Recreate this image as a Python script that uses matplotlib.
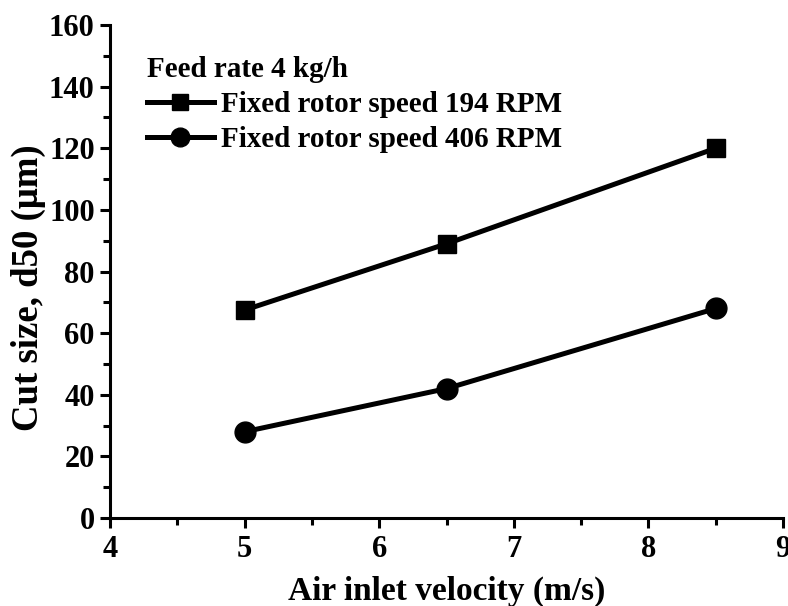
import matplotlib
matplotlib.use("Agg")
import matplotlib.pyplot as plt
from matplotlib.ticker import MultipleLocator

# data
velocity = [5.0, 6.5, 8.5]
d50_194 = [67.5, 89.0, 120.0]
d50_406 = [28.0, 42.0, 68.0]

plt.rcParams["font.family"] = ["Liberation Serif", "DejaVu Serif"]
plt.rcParams["font.weight"] = "bold"

fig = plt.figure(figsize=(7.88, 6.06), dpi=100)
ax = fig.add_axes([0.1396, 0.1452, 0.8541, 0.8135])

ax.plot(velocity, d50_194, color="black", lw=3.6, marker="s", ms=13,
        label="Fixed rotor speed 194 RPM")
ax.plot(velocity, d50_406, color="black", lw=3.6, marker="o", ms=15,
        label="Fixed rotor speed 406 RPM")

ax.set_xlim(4, 9)
ax.set_ylim(0, 160)
ax.xaxis.set_major_locator(MultipleLocator(1))
ax.xaxis.set_minor_locator(MultipleLocator(0.5))
ax.yaxis.set_major_locator(MultipleLocator(20))
ax.yaxis.set_minor_locator(MultipleLocator(10))

for s in ("top", "right"):
    ax.spines[s].set_visible(False)
for s in ("left", "bottom"):
    ax.spines[s].set_linewidth(2.2)

ax.tick_params(which="major", direction="out", length=7, width=2.2,
               labelsize=22, pad=4)
ax.tick_params(axis="x", which="major", pad=5.5)
ax.tick_params(which="minor", direction="out", length=5, width=2.2)
for lbl in ax.get_xticklabels() + ax.get_yticklabels():
    lbl.set_fontweight("bold")

ax.set_xlabel("Air inlet velocity (m/s)", fontsize=24, fontweight="bold", labelpad=8)
ax.set_ylabel("Cut size, d50 (\u03bcm)", fontsize=26.5, fontweight="bold")
ax.yaxis.set_label_coords(-0.095, 0.467)

leg = ax.legend(title="Feed rate 4 kg/h", loc="upper left",
                bbox_to_anchor=(0.024, 0.979), frameon=False,
                prop={"size": 21, "weight": "bold"}, handlelength=2.3,
                handletextpad=0.25, labelspacing=0.27, borderpad=0.2,
                markerscale=0.9)
leg.get_title().set_fontsize(21)
leg.get_title().set_fontweight("bold")
leg._legend_box.align = "left"
leg._legend_box.sep = 6

fig.savefig("out.png", dpi=100)
